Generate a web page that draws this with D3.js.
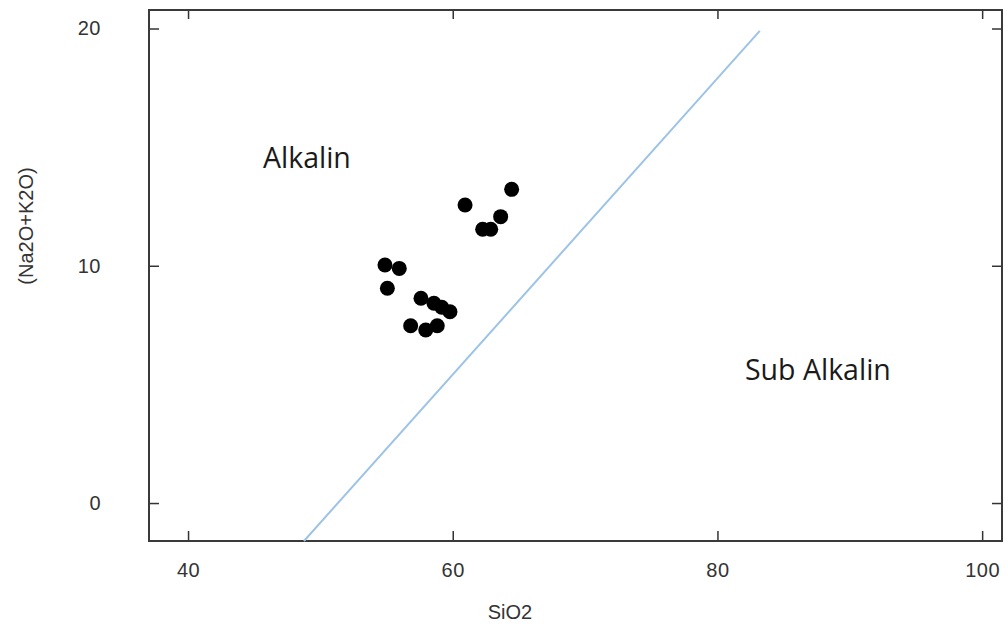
<!DOCTYPE html>
<html lang="en">
<head>
    <meta charset="UTF-8">
    <script src="https://d3js.org/d3.v7.min.js"></script>
    <title>TAS SiO2 vs Na2O+K2O</title>
    <style>
        body { margin: 0; background: #fff; }
        svg { font-family: "Liberation Sans", Arial, sans-serif; }
        .tick text { fill: #333; font-size: 20px; letter-spacing: 0.5px; }
        .tick line { stroke: #333; stroke-width: 1.5; }
        .region { font-family: "Open Sans", "Noto Sans", sans-serif; font-size: 28.5px; fill: #1a1a1a; }
    </style>
</head>
<body>
<div id="chart"></div>
<script>
    // Sample values
    const sio2 = [64.45, 60.93, 63.62, 62.26, 62.87, 54.88, 55.96, 55.06, 57.60, 58.58, 59.17, 59.79, 56.82, 57.96, 58.83];
    const alkali = [13.22, 12.56, 12.07, 11.54, 11.54, 10.03, 9.89, 9.05, 8.63, 8.42, 8.25, 8.06, 7.47, 7.29, 7.47];

    // Alkaline / sub-alkaline divider
    const dividerX = [48.76, 83.2];
    const dividerY = [-1.6, 19.9];

    const xTicks = [40, 60, 80, 100];
    const yTicks = [0, 10, 20];

    const regionNames = ["Alkalin", "Sub Alkalin"];
    const regionX = [45.66, 82.08];
    const regionY = [14.12, 5.18];

    const W = 1008, H = 628;
    const margin = { top: 10, right: 6, bottom: 87, left: 149 };
    const width = W - margin.left - margin.right;
    const height = H - margin.top - margin.bottom;

    const svg = d3.select("#chart").append("svg")
        .attr("width", W)
        .attr("height", H);

    const g = svg.append("g")
        .attr("transform", `translate(${margin.left},${margin.top})`);

    const x = d3.scaleLinear().domain([37.05, 101.5]).range([0, width]);
    const y = d3.scaleLinear().domain([-1.6, 20.78]).range([height, 0]);

    // Axes with inward ticks on all four sides
    const axBottom = g.append("g")
        .attr("transform", `translate(0,${height})`)
        .call(d3.axisBottom(x).tickValues(xTicks).tickSize(-10).tickSizeOuter(0).tickPadding(22));
    const axLeft = g.append("g")
        .call(d3.axisLeft(y).tickValues(yTicks).tickSize(-10).tickSizeOuter(0).tickPadding(48));
    const axTop = g.append("g")
        .call(d3.axisTop(x).tickValues(xTicks).tickSize(-9).tickSizeOuter(0).tickFormat(""));
    const axRight = g.append("g")
        .attr("transform", `translate(${width},0)`)
        .call(d3.axisRight(y).tickValues(yTicks).tickSize(-10).tickSizeOuter(0).tickFormat(""));
    [axBottom, axLeft, axTop, axRight].forEach(a => {
        a.select(".domain").remove();
        a.attr("font-family", null).attr("font-size", null);
    });

    // Frame
    g.append("rect")
        .attr("width", width)
        .attr("height", height)
        .attr("fill", "none")
        .attr("stroke", "#3a3a3a")
        .attr("stroke-width", 2);

    // Divider line
    const lineData = dividerX.map((d, i) => [d, dividerY[i]]);
    g.append("path")
        .datum(lineData)
        .attr("fill", "none")
        .attr("stroke", "#9dc3e6")
        .attr("stroke-width", 2)
        .attr("d", d3.line().x(d => x(d[0])).y(d => y(d[1])));

    // Points
    g.selectAll(".dot")
        .data(sio2.map((d, i) => [d, alkali[i]]))
        .enter()
        .append("circle")
        .attr("class", "dot")
        .attr("cx", d => x(d[0]))
        .attr("cy", d => y(d[1]))
        .attr("r", 7.5)
        .attr("fill", "#000");

    // Region labels
    g.selectAll(".region")
        .data(regionNames)
        .enter()
        .append("text")
        .attr("class", "region")
        .attr("x", (d, i) => x(regionX[i]))
        .attr("y", (d, i) => y(regionY[i]))
        .text(d => d);

    // Axis titles
    svg.append("text")
        .attr("x", 510)
        .attr("y", 619)
        .attr("text-anchor", "middle")
        .style("font-size", "20px")
        .attr("fill", "#333")
        .text("SiO2");

    svg.append("text")
        .attr("transform", "translate(33,226) rotate(-90)")
        .attr("text-anchor", "middle")
        .style("font-size", "20px")
        .attr("fill", "#333")
        .text("(Na2O+K2O)");
</script>
</body>
</html>
